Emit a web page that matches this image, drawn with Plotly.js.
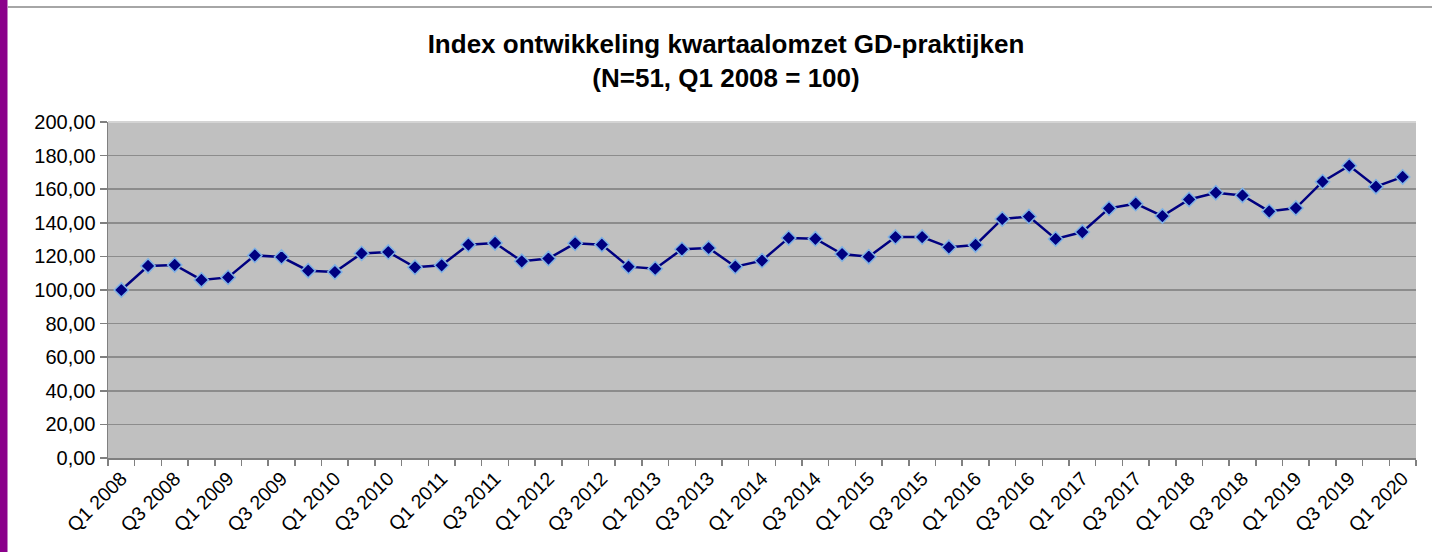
<!DOCTYPE html>
<html>
<head>
<meta charset="utf-8">
<script src="https://cdn.plot.ly/plotly-3.0.1.min.js"></script>
<style>html,body{margin:0;padding:0;background:#fff;}#chart{width:1432px;height:552px;}</style>
</head>
<body>
<div id="chart"></div>
<script>
const quarters = [
  "Q1 2008","Q2 2008","Q3 2008","Q4 2008",
  "Q1 2009","Q2 2009","Q3 2009","Q4 2009",
  "Q1 2010","Q2 2010","Q3 2010","Q4 2010",
  "Q1 2011","Q2 2011","Q3 2011","Q4 2011",
  "Q1 2012","Q2 2012","Q3 2012","Q4 2012",
  "Q1 2013","Q2 2013","Q3 2013","Q4 2013",
  "Q1 2014","Q2 2014","Q3 2014","Q4 2014",
  "Q1 2015","Q2 2015","Q3 2015","Q4 2015",
  "Q1 2016","Q2 2016","Q3 2016","Q4 2016",
  "Q1 2017","Q2 2017","Q3 2017","Q4 2017",
  "Q1 2018","Q2 2018","Q3 2018","Q4 2018",
  "Q1 2019","Q2 2019","Q3 2019","Q4 2019",
  "Q1 2020"
];
const indexValues = [
  100.0, 114.3, 114.9, 106.0,
  107.5, 120.6, 119.6, 111.5,
  110.7, 121.8, 122.6, 113.5,
  114.7, 127.0, 128.0, 117.1,
  118.7, 127.8, 127.0, 113.9,
  112.7, 124.2, 125.0, 113.9,
  117.5, 131.0, 130.5, 121.4,
  119.8, 131.5, 131.5, 125.4,
  126.8, 142.3, 143.7, 130.4,
  134.5, 148.6, 151.4, 144.0,
  153.9, 157.9, 156.3, 146.8,
  148.8, 164.5, 174.0, 161.5,
  167.3
];
// show every other quarter label (Q1 and Q3)
const tickLabels = quarters.map((q, i) => (i % 2 === 0 ? q : ""));

const W = 1432, H = 552;
const M = {l: 108, r: 16, t: 122, b: 94};
const pw = W - M.l - M.r, ph = H - M.t - M.b;
const px = v => (v - M.l) / pw;
const py = v => (H - M.b - v) / ph;

const trace = {
  type: "scatter",
  mode: "lines+markers",
  x: quarters,
  y: indexValues,
  line: {color: "#000080", width: 2.5},
  marker: {symbol: "diamond", size: 11, color: "#000080",
           line: {color: "#7fb2e5", width: 1.5}},
  hoverinfo: "x+y"
};

const layout = {
  width: W, height: H,
  margin: M,
  paper_bgcolor: "#ffffff",
  plot_bgcolor: "#c0c0c0",
  separators: ",.",
  showlegend: false,
  font: {family: "Liberation Sans, Arial, sans-serif", color: "#000"},
  title: {
    text: "<b>Index ontwikkeling kwartaalomzet GD-praktijken<br>(N=51, Q1 2008 = 100)</b>",
    font: {family: "Liberation Sans, Arial, sans-serif", size: 26, color: "#000"},
    xref: "container", yref: "container",
    x: 726 / W, xanchor: "center",
    y: 1 - 53 / H, yanchor: "top"
  },
  xaxis: {
    type: "category",
    range: [-0.5, quarters.length - 0.5],
    tickmode: "array",
    tickvals: quarters,
    ticktext: tickLabels,
    tickangle: -45,
    tickson: "boundaries",
    ticks: "outside", ticklen: 6, tickcolor: "#808080", tickwidth: 1.5,
    showgrid: false,
    showline: true, linecolor: "#808080", linewidth: 1.5,
    tickfont: {size: 19.5, color: "#000"},
    zeroline: false
  },
  yaxis: {
    range: [0, 200],
    dtick: 20,
    tick0: 0,
    tickformat: ".2f",
    ticks: "outside", ticklen: 7, tickcolor: "#808080", tickwidth: 1.5,
    showline: true, linecolor: "#808080", linewidth: 1.5,
    showgrid: true, gridcolor: "#8c8c8c", gridwidth: 1.6,
    zeroline: false,
    tickfont: {size: 20, color: "#000"}
  },
  shapes: [
    {type: "rect", xref: "paper", yref: "paper",
     x0: px(0), x1: px(7.5), y0: py(H), y1: py(0),
     fillcolor: "#8b008b", line: {width: 0}, layer: "above"},
    {type: "line", xref: "paper", yref: "paper",
     x0: px(8), x1: px(W), y0: py(7), y1: py(7),
     line: {color: "#a6a6a6", width: 2}},
    {type: "line", xref: "paper", yref: "paper",
     x0: 0, x1: 1, y0: 1, y1: 1,
     line: {color: "#d4d4d4", width: 2}}
  ]
};

Plotly.newPlot("chart", [trace], layout, {displayModeBar: false, staticPlot: true});
</script>
</body>
</html>
